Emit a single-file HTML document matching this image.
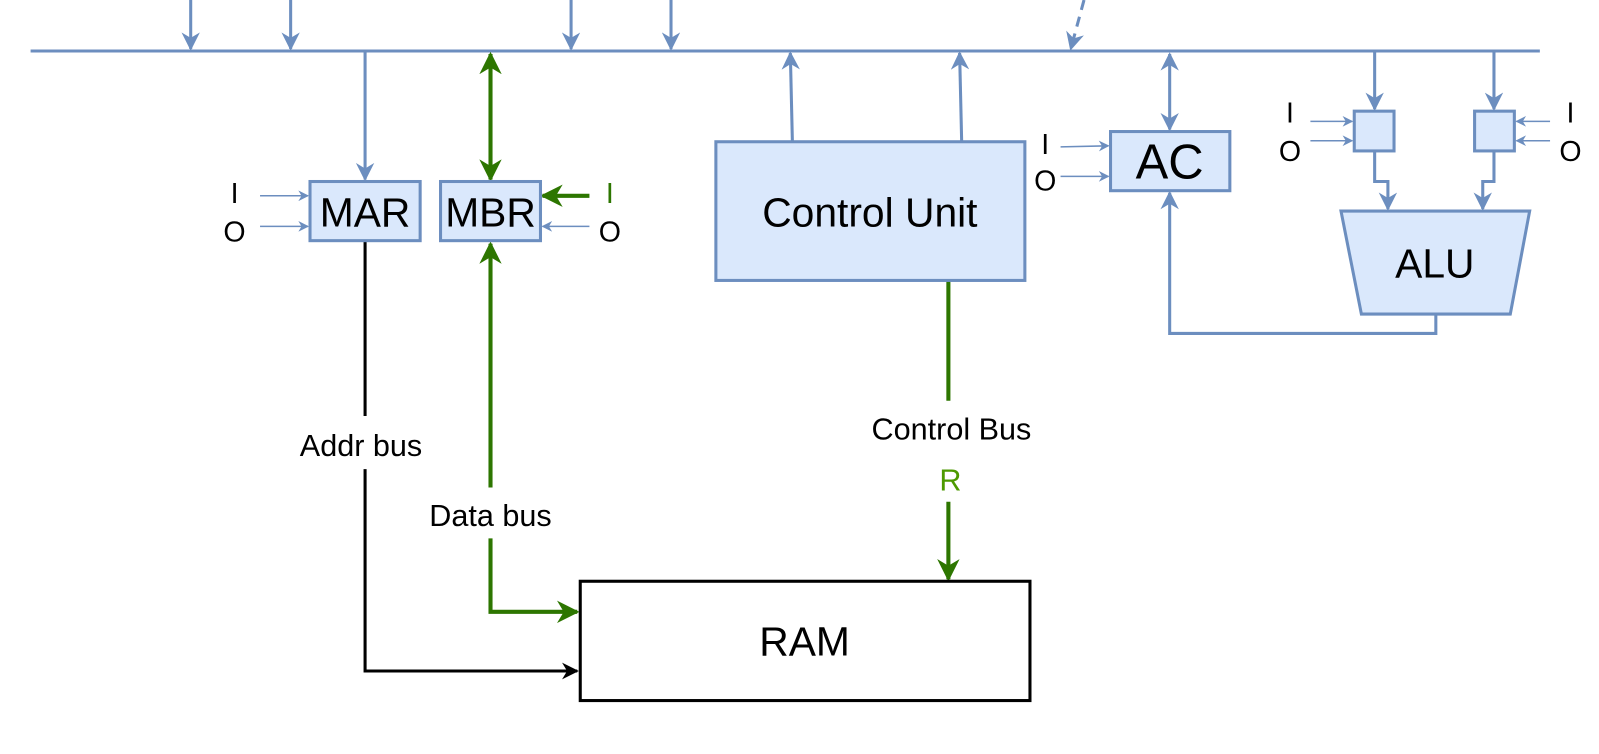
<!DOCTYPE html>
<html><head><style>body{margin:0;background:#fff;overflow:hidden}svg{display:block}text{font-family:"Liberation Sans",sans-serif}</style></head><body>
<svg width="1599" height="754" viewBox="0 0 1568 739.4" preserveAspectRatio="none" xmlns="http://www.w3.org/2000/svg">
<defs>
<marker id="b" viewBox="0 0 10 10" refX="9" refY="5" markerWidth="6" markerHeight="6" orient="auto-start-reverse" markerUnits="strokeWidth"><path d="M0,0L10,5L0,10L3,5z" fill="#6c8ebf"/></marker>
<marker id="bt" viewBox="0 0 10 10" refX="9" refY="5" markerWidth="9" markerHeight="7" orient="auto-start-reverse" markerUnits="strokeWidth"><path d="M0,0L10,5L0,10L3,5z" fill="#6c8ebf"/></marker>
<marker id="g" viewBox="0 0 10 10" refX="9" refY="5" markerWidth="5.5" markerHeight="5.5" orient="auto-start-reverse" markerUnits="strokeWidth"><path d="M0,0L10,5L0,10L3,5z" fill="#2d7600"/></marker>
<marker id="k" viewBox="0 0 10 10" refX="9" refY="5" markerWidth="5.5" markerHeight="5.5" orient="auto-start-reverse" markerUnits="strokeWidth"><path d="M0,0L10,5L0,10L3,5z" fill="#000"/></marker>
</defs>
<g stroke="#6c8ebf" stroke-width="3" fill="none">
<line x1="30" y1="50" x2="1510" y2="50"/>
<line x1="187" y1="0" x2="187" y2="48" marker-end="url(#b)"/>
<line x1="285" y1="0" x2="285" y2="48" marker-end="url(#b)"/>
<line x1="560" y1="0" x2="560" y2="48" marker-end="url(#b)"/>
<line x1="658" y1="0" x2="658" y2="48" marker-end="url(#b)"/>
<line x1="1063" y1="0" x2="1050" y2="48" stroke-dasharray="10,7" marker-end="url(#b)"/>
<line x1="358" y1="50" x2="358" y2="176" marker-end="url(#b)"/>
<line x1="777" y1="138" x2="775" y2="52" marker-end="url(#b)"/>
<line x1="943" y1="138" x2="941" y2="52" marker-end="url(#b)"/>
<line x1="1147" y1="53" x2="1147" y2="127" marker-start="url(#b)" marker-end="url(#b)"/>
<line x1="1348" y1="50" x2="1348" y2="107" marker-end="url(#b)"/>
<line x1="1465" y1="50" x2="1465" y2="107" marker-end="url(#b)"/>
<polyline points="1348,148 1348,178 1361,178 1361,205" marker-end="url(#b)"/>
<polyline points="1465,148 1465,178 1454,178 1454,205" marker-end="url(#b)"/>
<polyline points="1408,308 1408,327 1147,327 1147,189" marker-end="url(#b)"/>
</g>
<g stroke="#6c8ebf" stroke-width="1.5" fill="none">
<line x1="255" y1="192" x2="302" y2="192" marker-end="url(#bt)"/>
<line x1="255" y1="222" x2="302" y2="222" marker-end="url(#bt)"/>
<line x1="578" y1="222" x2="532" y2="222" marker-end="url(#bt)"/>
<line x1="1040" y1="144" x2="1087" y2="143" marker-end="url(#bt)"/>
<line x1="1040" y1="173" x2="1087" y2="173" marker-end="url(#bt)"/>
<line x1="1285" y1="119" x2="1326" y2="119" marker-end="url(#bt)"/>
<line x1="1285" y1="138" x2="1326" y2="138" marker-end="url(#bt)"/>
<line x1="1520" y1="119" x2="1487" y2="119" marker-end="url(#bt)"/>
<line x1="1520" y1="138" x2="1487" y2="138" marker-end="url(#bt)"/>
</g>
<g stroke="#2d7600" stroke-width="4" fill="none">
<line x1="481" y1="53" x2="481" y2="176" marker-start="url(#g)" marker-end="url(#g)"/>
<line x1="578" y1="192" x2="532" y2="192" marker-end="url(#g)"/>
<line x1="481" y1="478" x2="481" y2="239" marker-end="url(#g)"/>
<polyline points="481,528 481,600 566,600" marker-end="url(#g)"/>
<line x1="930" y1="275" x2="930" y2="393"/>
<line x1="930" y1="492" x2="930" y2="568" marker-end="url(#g)"/>
</g>
<g stroke="#000" stroke-width="3" fill="none">
<line x1="358" y1="236" x2="358" y2="408"/>
<polyline points="358,460 358,658 566,658" marker-end="url(#k)"/>
<rect x="569" y="570" width="441" height="117" fill="#fff"/>
</g>
<g stroke="#6c8ebf" stroke-width="3" fill="#dae8fc">
<rect x="304" y="178" width="108" height="58"/>
<rect x="432" y="178" width="98" height="58"/>
<rect x="702" y="139" width="303" height="136"/>
<rect x="1089" y="129" width="117" height="58"/>
<rect x="1328" y="109" width="39" height="39"/>
<rect x="1446" y="109" width="39" height="39"/>
<polygon points="1315,207 1500,207 1481,308 1335,308"/>
</g>
<g text-anchor="middle" font-size="28">
<text x="358" y="222" font-size="40">MAR</text>
<text x="481" y="222" font-size="40">MBR</text>
<text x="853" y="222" font-size="40">Control Unit</text>
<text x="1147" y="175" font-size="48">AC</text>
<text x="1407" y="272" font-size="40">ALU</text>
<text x="789" y="643" font-size="40">RAM</text>
<text x="230" y="199">I</text><text x="230" y="237">O</text>
<text x="598" y="199" fill="#2d7600">I</text><text x="598" y="237">O</text>
<text x="1025" y="151">I</text><text x="1025" y="187">O</text>
<text x="1265" y="120">I</text><text x="1265" y="158">O</text>
<text x="1540" y="120">I</text><text x="1540" y="158">O</text>
<text x="354" y="447" font-size="30">Addr bus</text>
<text x="481" y="516" font-size="30">Data bus</text>
<text x="933" y="431" font-size="30">Control Bus</text>
<text x="932" y="481" font-size="30" fill="#4d9900">R</text>
</g>
</svg>
</body></html>
